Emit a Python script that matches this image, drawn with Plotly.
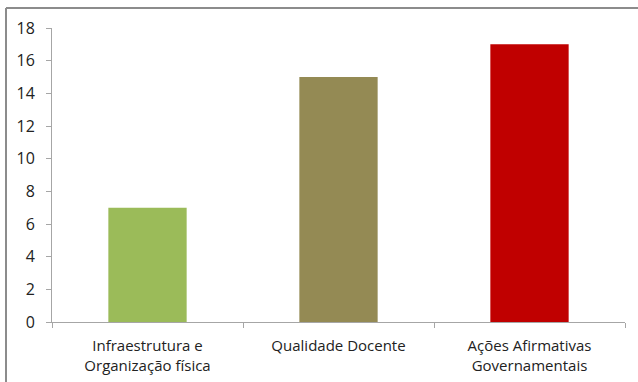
import plotly.graph_objects as go

categories = ["Infraestrutura e<br>Organização física", "Qualidade Docente", "Ações Afirmativas<br>Governamentais"]
values = [7, 15, 17]
colors = ["#9BBB59", "#948A54", "#C00000"]

fig = go.Figure(go.Bar(x=categories, y=values, marker=dict(color=colors, line=dict(width=0)), width=0.41))

L, R, T, B = 52, 13, 28, 60
W, H = 638, 382
pw, ph = W - L - R, H - T - B

fig.update_layout(
    width=W, height=H,
    margin=dict(l=L, r=R, t=T, b=B),
    plot_bgcolor="white", paper_bgcolor="white",
    font=dict(family="Open Sans, Liberation Sans, sans-serif", size=15, color="#222222"),
    showlegend=False,
    shapes=[
        dict(type="line", xref="paper", yref="paper",
             x0=(6 - L) / pw, x1=(W + 5 - L) / pw, y0=(H - B - 8) / ph, y1=(H - B - 8) / ph,
             line=dict(color="#8C8C8C", width=2)),
        dict(type="line", xref="paper", yref="paper",
             x0=(6 - L) / pw, x1=(6 - L) / pw, y0=(H - B - 8) / ph, y1=-(B + 5) / ph,
             line=dict(color="#8C8C8C", width=2)),
    ],
)
fig.update_xaxes(showline=True, linecolor="#A6A6A6", linewidth=1, ticks="outside",
                 tickson="boundaries", ticklen=5, tickcolor="#A6A6A6", showgrid=False,
                 tickfont=dict(size=15), ticklabelstandoff=10, automargin=False)
fig.update_yaxes(range=[0, 18], dtick=2, showline=True, linecolor="#A6A6A6", linewidth=1,
                 ticks="outside", ticklen=5, tickcolor="#A6A6A6", showgrid=False, zeroline=False,
                 tickfont=dict(size=16), ticklabelstandoff=8, automargin=False)

fig.write_html("out.html")
